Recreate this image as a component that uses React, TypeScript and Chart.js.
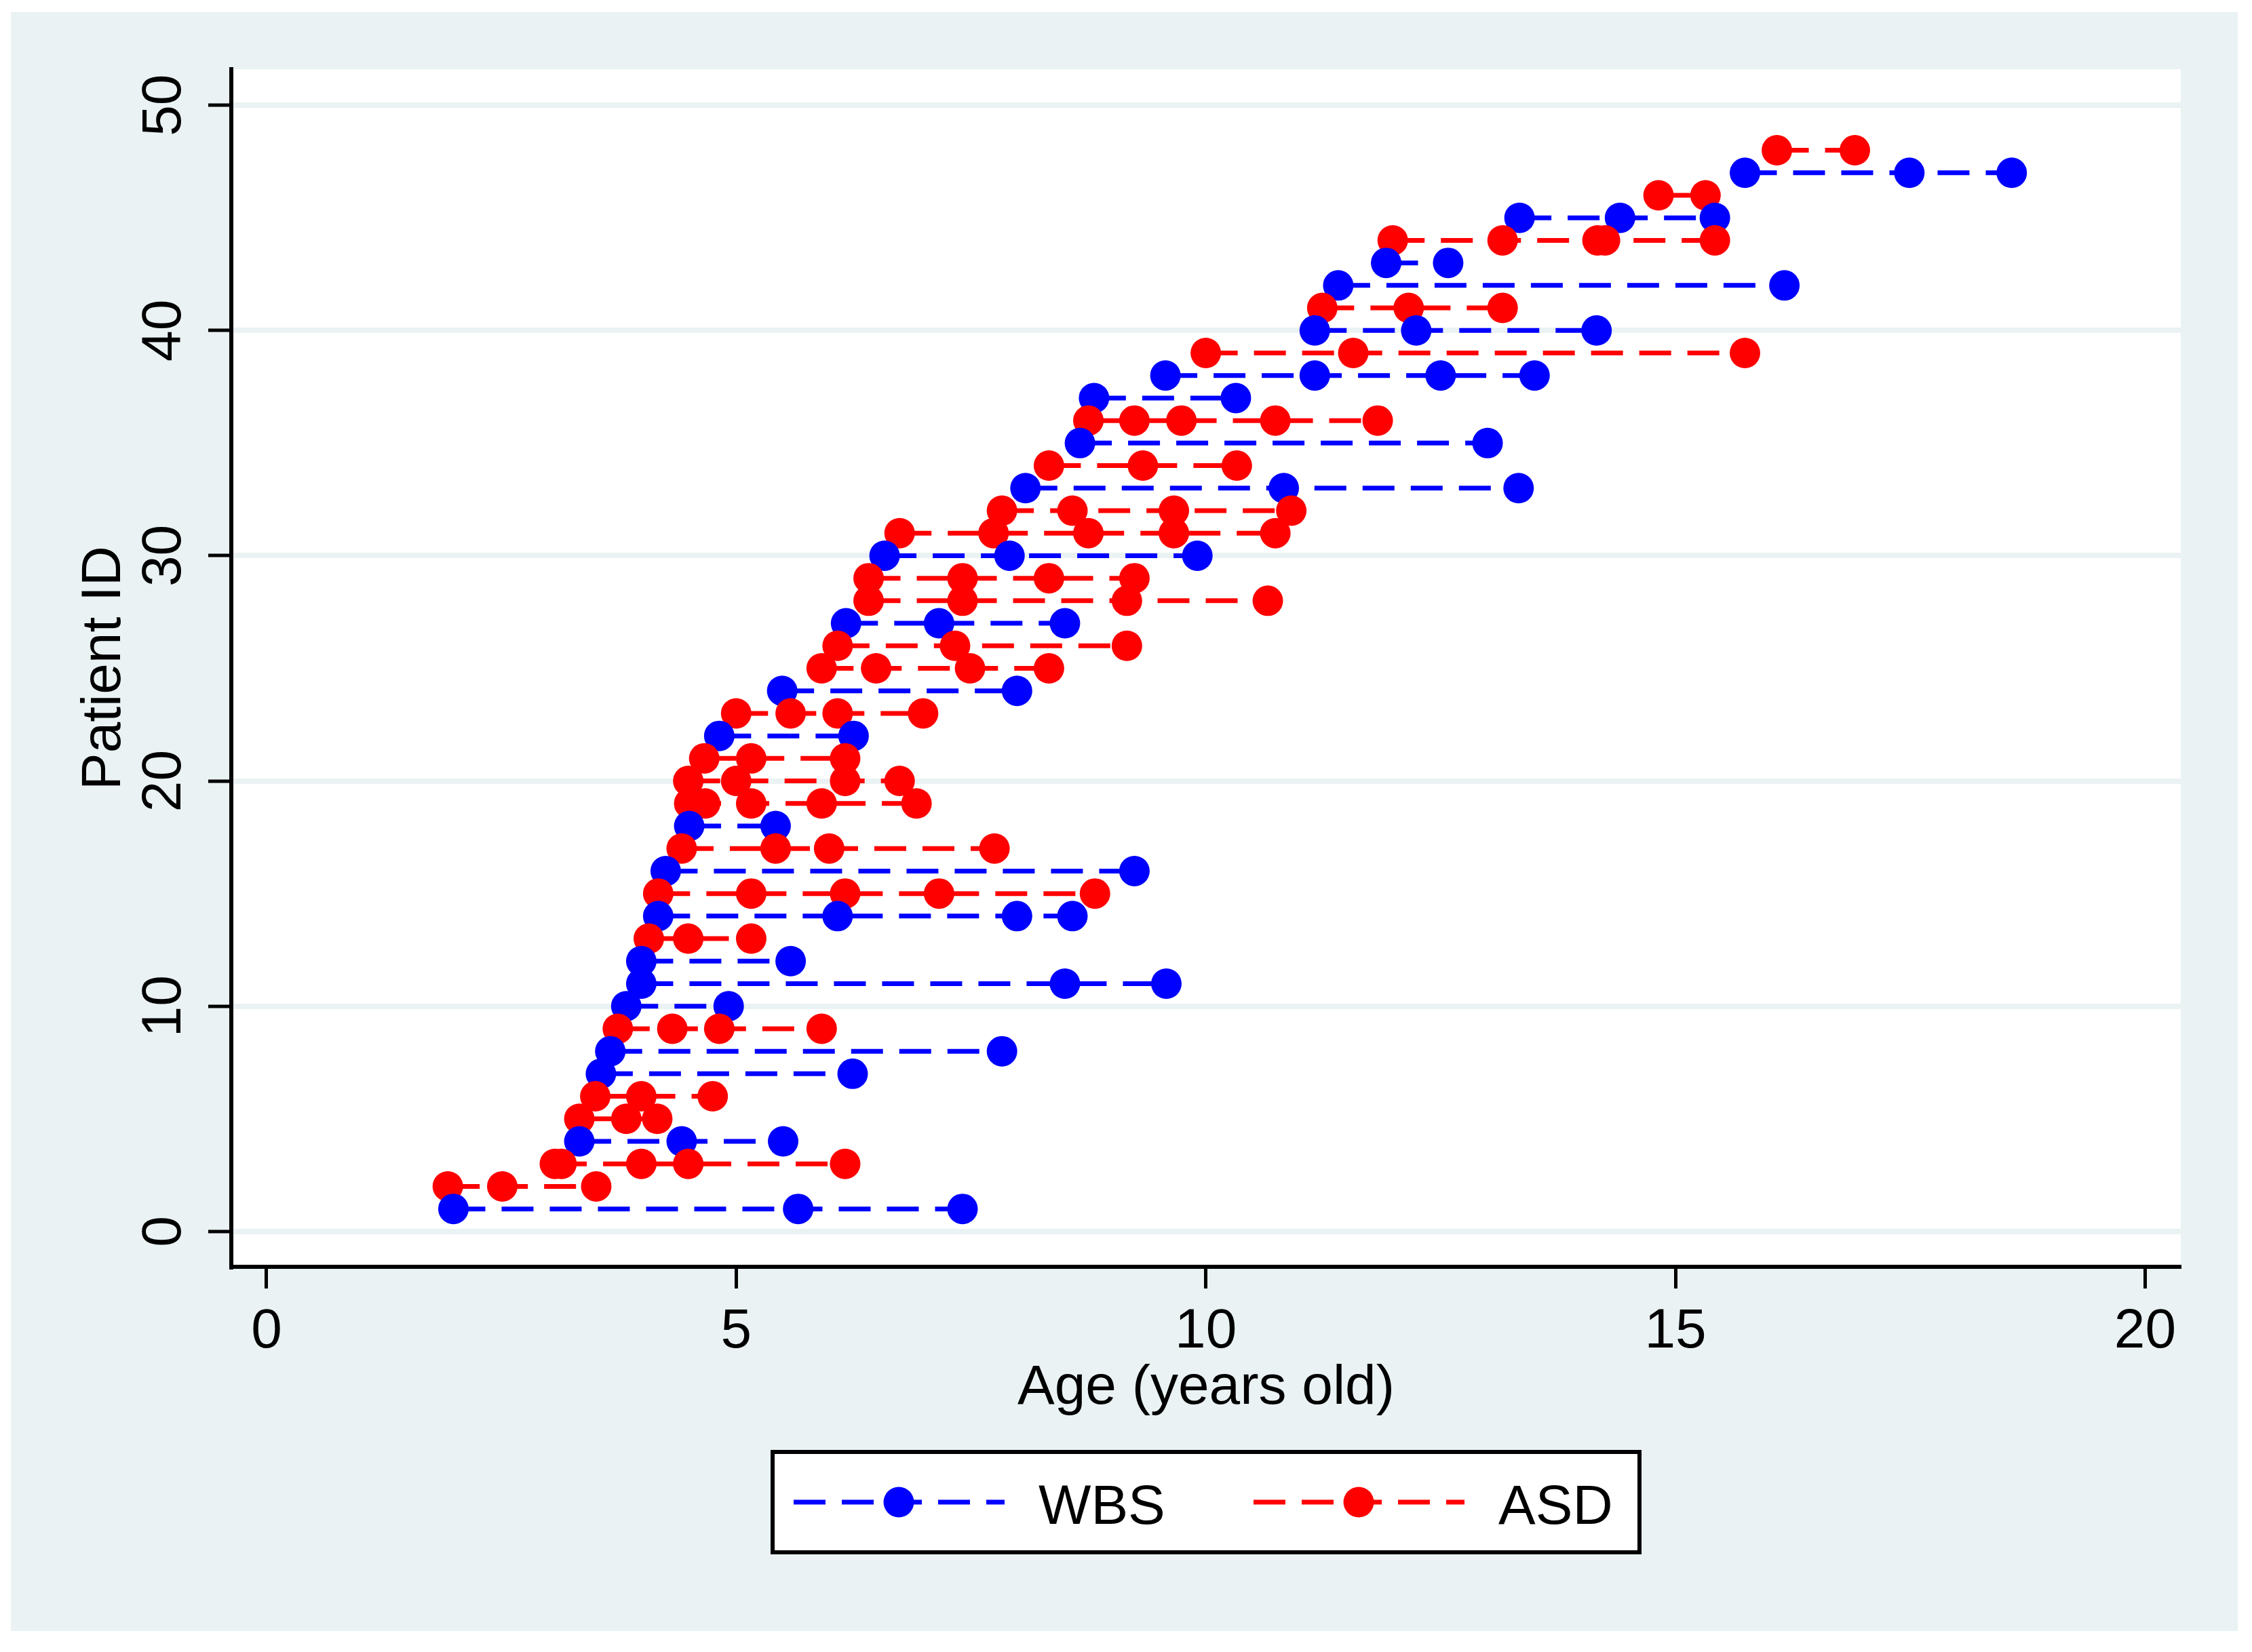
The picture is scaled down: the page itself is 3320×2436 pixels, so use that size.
import { useEffect, useRef } from 'react';
import { Chart, registerables } from 'chart.js';

Chart.register(...registerables);

const FONT = '"Liberation Sans", Arial, Helvetica, sans-serif';

const seriesNames = ['WBS', 'ASD'];
const seriesColors = ['#0000ff', '#ff0000'];

// WBS patients, ages at each visit (years)
const wbsIds = [1, 4, 7, 8, 10, 11, 12, 14, 16, 18, 22, 24, 27, 30, 33, 35, 37, 38, 40, 42, 43, 45, 47];
const wbsAges = [
  [1.99, 5.66, 7.41],
  [3.33, 4.42, 5.5],
  [3.56, 6.24],
  [3.66, 7.83],
  [3.83, 4.92],
  [3.99, 8.5, 9.58],
  [3.99, 5.58],
  [4.17, 6.08, 7.99, 8.58],
  [4.25, 9.24],
  [4.5, 5.42],
  [4.82, 6.25],
  [5.49, 7.99],
  [6.17, 7.16, 8.5],
  [6.58, 7.91, 9.91],
  [8.08, 10.83, 13.33],
  [8.66, 13.0],
  [8.81, 10.32],
  [9.57, 11.16, 12.5, 13.5],
  [11.16, 12.24, 14.16],
  [11.41, 16.16],
  [11.92, 12.58],
  [13.34, 14.41, 15.42],
  [15.74, 17.49, 18.58],
];

// ASD patients, ages at each visit (years)
const asdIds = [2, 3, 5, 6, 9, 13, 15, 17, 19, 20, 21, 23, 25, 26, 28, 29, 31, 32, 34, 36, 39, 41, 44, 46, 48];
const asdAges = [
  [1.93, 2.51, 3.51],
  [3.07, 3.14, 3.99, 4.49, 6.16],
  [3.33, 3.83, 4.16],
  [3.5, 3.99, 4.75],
  [3.74, 4.32, 4.82, 5.91],
  [4.07, 4.49, 5.16],
  [4.17, 5.16, 6.16, 7.16, 8.82],
  [4.42, 5.42, 5.99, 7.75],
  [4.5, 4.67, 5.16, 5.91, 6.92],
  [4.49, 5.0, 6.16, 6.74],
  [4.66, 5.16, 6.16],
  [5.0, 5.58, 6.08, 6.99],
  [5.91, 6.49, 7.49, 8.33],
  [6.08, 7.33, 9.16],
  [6.41, 7.41, 9.16, 10.66],
  [6.41, 7.41, 8.33, 9.24],
  [6.74, 7.74, 8.75, 9.66, 10.74],
  [7.83, 8.58, 9.66, 10.91],
  [8.33, 9.33, 10.33],
  [8.75, 9.24, 9.74, 10.74, 11.83],
  [10.0, 11.57, 15.74],
  [11.24, 12.16, 13.16],
  [11.99, 13.16, 14.17, 14.25, 15.42],
  [14.82, 15.32],
  [16.08, 16.91],
];

const xTicks = [0, 5, 10, 15, 20];
const yTicks = [0, 10, 20, 30, 40, 50];

// graph region background, plot region and the boxed legend (Stata look)
const stataFrame = {
  id: 'stataFrame',
  beforeDraw(chart: any) {
    const { ctx, chartArea } = chart;
    ctx.save();
    ctx.fillStyle = '#ffffff';
    ctx.fillRect(0, 0, chart.width, chart.height);
    ctx.fillStyle = '#eaf2f3';
    ctx.fillRect(16, 18, 3283, 2387);
    ctx.fillStyle = '#ffffff';
    ctx.fillRect(chartArea.left, chartArea.top, chartArea.right - chartArea.left, chartArea.bottom - chartArea.top);
    ctx.restore();
  },
  afterDraw(chart: any) {
    const ctx = chart.ctx;
    ctx.save();
    ctx.fillStyle = '#ffffff';
    ctx.fillRect(1139, 2141, 1278, 148);
    ctx.lineWidth = 6;
    ctx.strokeStyle = '#000000';
    ctx.strokeRect(1139, 2141, 1278, 148);

    const rowY = 2215;
    const starts = [1170, 1848];
    seriesNames.forEach((name, i) => {
      const x0 = starts[i];
      ctx.strokeStyle = seriesColors[i];
      ctx.lineWidth = 7;
      ctx.lineCap = 'butt';
      ctx.setLineDash([47, 24]);
      ctx.beginPath();
      ctx.moveTo(x0, rowY);
      ctx.lineTo(x0 + 311, rowY);
      ctx.stroke();
      ctx.setLineDash([]);
      ctx.fillStyle = seriesColors[i];
      ctx.beginPath();
      ctx.arc(x0 + 155, rowY, 22.5, 0, Math.PI * 2);
      ctx.fill();
      ctx.fillStyle = '#000000';
      ctx.font = `82px ${FONT}`;
      ctx.textAlign = 'left';
      ctx.textBaseline = 'alphabetic';
      ctx.fillText(name, x0 + 361, 2247);
    });
    ctx.restore();
  },
};

export default function App() {
  const canvasRef = useRef<HTMLCanvasElement>(null);
  const chartRef = useRef<Chart | null>(null);

  useEffect(() => {
    document.body.style.margin = '0';
    if (!canvasRef.current) return;
    if (chartRef.current) chartRef.current.destroy();

    const patients = [
      ...wbsIds.map((id, i) => ({ id, group: 0, ages: wbsAges[i] })),
      ...asdIds.map((id, i) => ({ id, group: 1, ages: asdAges[i] })),
    ].sort((a, b) => a.id - b.id);

    const datasets = patients.map((p) => ({
      label: seriesNames[p.group],
      data: p.ages.map((x) => ({ x, y: p.id })),
      showLine: true,
      borderColor: seriesColors[p.group],
      backgroundColor: seriesColors[p.group],
      borderWidth: 7,
      borderDash: [47, 24],
      borderCapStyle: 'butt' as const,
      pointRadius: 22.5,
      pointHoverRadius: 22.5,
      pointBorderWidth: 0,
      pointBackgroundColor: seriesColors[p.group],
    }));

    const tickFont = { size: 82, family: FONT };

    chartRef.current = new Chart(canvasRef.current, {
      type: 'scatter',
      data: { datasets },
      options: {
        animation: false,
        responsive: false,
        devicePixelRatio: 1,
        events: [],
        layout: { padding: { left: 0, top: 102, right: 105, bottom: 336 } },
        plugins: {
          legend: { display: false },
          tooltip: { enabled: false },
        },
        scales: {
          x: {
            type: 'linear',
            min: -0.375,
            max: 20.38,
            afterBuildTicks: (s: any) => {
              s.ticks = xTicks.map((value) => ({ value }));
            },
            afterFit: (s: any) => {
              s.height = 232;
            },
            grid: {
              drawOnChartArea: false,
              drawTicks: true,
              tickLength: 32,
              tickWidth: 5,
              tickColor: '#000000',
            },
            border: { display: true, color: '#000000', width: 6 },
            ticks: {
              color: '#000000',
              font: tickFont,
              padding: 15,
              minRotation: 0,
              maxRotation: 0,
              autoSkip: false,
            },
            title: {
              display: true,
              text: 'Age (years old)',
              color: '#000000',
              font: tickFont,
              padding: { top: 0, bottom: 3 },
            },
          },
          y: {
            type: 'linear',
            min: -1.57,
            max: 51.6,
            afterBuildTicks: (s: any) => {
              s.ticks = yTicks.map((value) => ({ value }));
            },
            afterFit: (s: any) => {
              s.width = 341;
            },
            grid: {
              color: '#eaf2f3',
              lineWidth: 8,
              drawTicks: true,
              tickLength: 34,
              tickWidth: 5,
              tickColor: '#000000',
            },
            border: { display: true, color: '#000000', width: 6 },
            ticks: {
              color: '#000000',
              font: tickFont,
              padding: 18,
              minRotation: 90,
              maxRotation: 90,
              crossAlign: 'center',
              autoSkip: false,
            },
            title: {
              display: true,
              text: 'Patient ID',
              color: '#000000',
              font: tickFont,
              padding: { top: 105, bottom: 0 },
            },
          },
        },
      },
      plugins: [stataFrame],
    });

    return () => {
      if (chartRef.current) {
        chartRef.current.destroy();
        chartRef.current = null;
      }
    };
  }, []);

  return (
    <div style={{ width: 3320, height: 2436, background: '#ffffff' }}>
      <canvas ref={canvasRef} width={3320} height={2436} style={{ display: 'block' }} />
    </div>
  );
}
